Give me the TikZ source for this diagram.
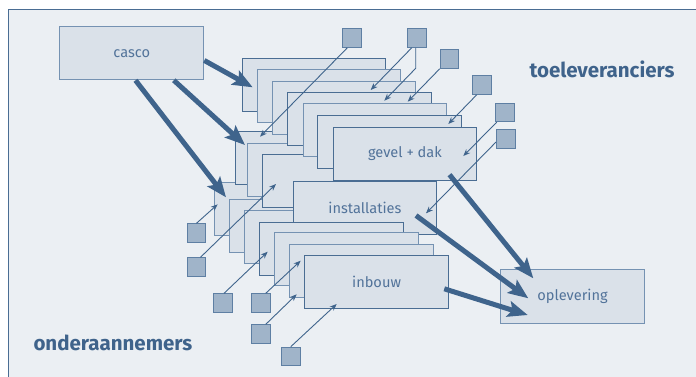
\documentclass[tikz,border=0pt]{standalone}
\usepackage{fontspec}
\setmainfont{Fira Sans}
\usetikzlibrary{arrows.meta,calc}
\definecolor{bgc}{HTML}{EBEFF3}
\definecolor{boxc}{HTML}{DAE1E9}
\definecolor{darkline}{HTML}{4A6D93}
\definecolor{lightline}{HTML}{7592B2}
\definecolor{sqfill}{HTML}{A0B4C9}
\definecolor{sqline}{HTML}{5E7FA3}
\definecolor{arrowc}{HTML}{3F648C}
\definecolor{txtc}{HTML}{52739A}
\definecolor{lblc}{HTML}{3F638B}
\tikzset{
  stackbox/.style={draw=lightline, fill=boxc, line width=1pt, minimum width=143.5pt,
    minimum height=53pt, anchor=north west, inner sep=0pt, text=txtc,
    font=\fontsize{14.6}{17}\selectfont},
  darkbox/.style={stackbox, draw=darkline},
  sq/.style={draw=sqline, fill=sqfill, line width=1pt, minimum width=18.5pt,
    minimum height=18.5pt, anchor=north west, inner sep=0pt},
  bigarrow/.style={draw=arrowc, line width=5pt, -{Stealth[length=20pt,width=16pt,inset=4pt]}},
  thinarrow/.style={draw=arrowc, line width=0.9pt, -{Stealth[length=7pt,width=5.5pt]}},
  lbl/.style={text=lblc, font=\fontsize{20.5}{24}\selectfont\bfseries, inner sep=0pt, anchor=base west}
}
\begin{document}
\begin{tikzpicture}[x=1pt,y=-1pt]
\useasboundingbox (0,0) rectangle (696,376);
\fill[white] (0,0) rectangle (696,376);
\draw[darkline, fill=bgc, line width=1pt] (8.5,9) rectangle (720,400);

% bottom stack, back part
\node[stackbox] (b1) at (214,182.3) {};
\node[stackbox] (b2) at (229,198.7) {};
\node[stackbox] (b3) at (244,210) {};
% middle stack
\node[darkbox] (m1) at (235,130.7) {};
\node[stackbox] (m2) at (247.3,142.7) {};
\node[darkbox] (m3) at (262,154) {};
\node[darkbox] (inst) at (292.7,180.7) {installaties};
% top stack
\node[darkbox] (t1) at (241.7,58.3) {};
\node[stackbox] (t2) at (256.7,69.3) {};
\node[stackbox] (t3) at (271.7,81) {};
\node[darkbox] (t4) at (287.3,92.3) {};
\node[stackbox] (t5) at (302.7,103.3) {};
\node[darkbox] (t6) at (317.3,115) {};
\node[darkbox] (gevel) at (332.7,126.7) {gevel + dak};
% bottom stack, front part
\node[darkbox] (b4) at (259.3,221.7) {};
\node[stackbox] (b5) at (274.3,232.3) {};
\node[stackbox] (b6) at (289.3,244) {};
\node[darkbox] (inbouw) at (304.3,255.3) {inbouw};

\node[stackbox, minimum width=144pt, minimum height=53.3pt] (casco) at (59.3,26) {casco};
\node[stackbox, minimum width=144pt, minimum height=54pt] (opl) at (500,269.3) {oplevering};

\node[lbl] (lt) at (529.3,77.3) {toeleveranciers};
\node[lbl] (lo) at (33.3,350.7) {onderaannemers};

% squares
\node[sq] (s1) at (342,28.3) {};
\node[sq] (s2) at (407,28.3) {};
\node[sq] (s3) at (439.7,49.3) {};
\node[sq] (s4) at (472.3,75.3) {};
\node[sq] (s5) at (495.3,102.7) {};
\node[sq] (s6) at (496,129.3) {};
\node[sq] (sa) at (186.7,223.3) {};
\node[sq] (sb) at (186.7,257.3) {};
\node[sq] (sc) at (213.3,293.3) {};
\node[sq] (sd) at (251,293.3) {};
\node[sq] (se) at (251,324.3) {};
\node[sq] (sf) at (281,346.7) {};

% tips
\coordinate (ta1) at (252.7,87.3);
\coordinate (ta2) at (245,145);
\coordinate (ta3) at (226,197.3);
\coordinate (ta4) at (533.3,278.3);
\coordinate (ta5) at (528.3,298.3);
\coordinate (ta6) at (527.7,315);

\draw[bigarrow] ($(casco.east)+(0,7.3)$) -- (ta1);
\draw[bigarrow] ($(casco.south)+(42,0)$) -- (ta2);
\draw[bigarrow] ($(casco.south)+(3.7,0)$) -- (ta3);
\draw[bigarrow] ($(gevel.south east)+(-27.7,-6)$) -- (ta4);
\draw[bigarrow] ($(inst.east)+(-21.2,7.8)$) -- (ta5);
\draw[bigarrow] ($(inbouw.east)+(-4.5,6.5)$) -- (ta6);

\coordinate (p1) at (260,136.7);
\coordinate (p2a) at (370.7,90);
\coordinate (p2k) at (415.7,68.3);
\coordinate (p2b) at (384.3,100.7);
\coordinate (p3) at (407.7,101.7);
\coordinate (p4) at (448.3,124);
\coordinate (p5) at (463.3,156);
\coordinate (p6) at (426,213.3);
\coordinate (pa) at (217.7,204.3);
\coordinate (pb) at (276,184);
\coordinate (pc) at (267.7,251.7);
\coordinate (pd) at (300.7,260.7);
\coordinate (pe) at (296.7,294.3);
\coordinate (pf) at (336.7,304);

\draw[thinarrow] ($(s1.south west)+(5.3,0)$) -- (p1);
\draw[thinarrow] ($(s2.south west)+(4.7,0)$) -- (p2a);
\draw[thinarrow] ($(s2.south west)+(8.7,0)$) -- (p2k) -- (p2b);
\draw[thinarrow] (s3.south west) -- (p3);
\draw[thinarrow] ($(s4.south west)+(4.4,0)$) -- (p4);
\draw[thinarrow] ($(s5.south west)+(1.4,0)$) -- (p5);
\draw[thinarrow] ($(s6.west)+(0,3)$) -- (p6);
\draw[thinarrow] (sa.north) -- (pa);
\draw[thinarrow] ($(sb.north)+(4,0)$) -- (pb);
\draw[thinarrow] ($(sc.north)+(1,0)$) -- (pc);
\draw[thinarrow] ($(sd.north)+(5,0)$) -- (pd);
\draw[thinarrow] ($(se.north)+(5,0)$) -- (pe);
\draw[thinarrow] (sf.north) -- (pf);
\end{tikzpicture}
\end{document}
